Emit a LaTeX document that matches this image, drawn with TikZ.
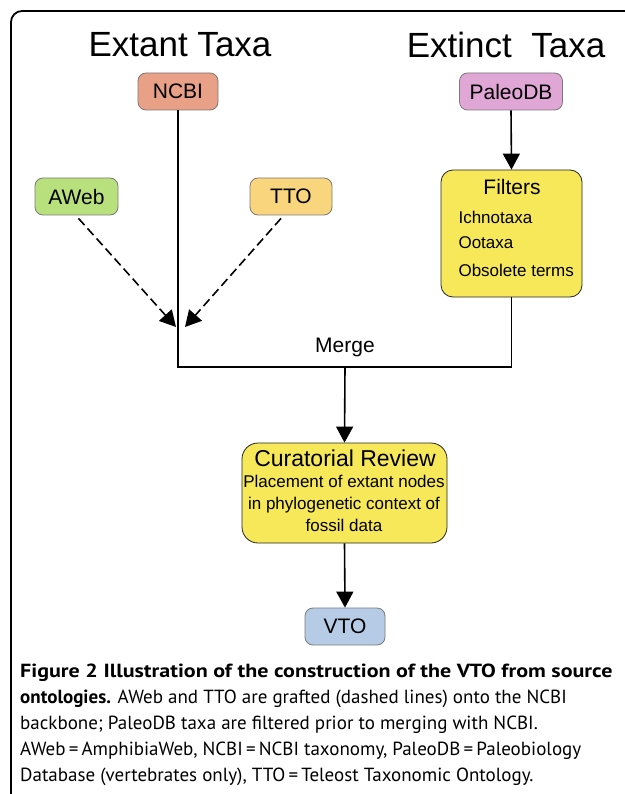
\documentclass[tikz,border=0pt]{standalone}
\usepackage{fontspec}
\setmainfont{Liberation Sans}
\newfontfamily\capfont{PT Sans}
\newfontfamily\capwide[FakeStretch=1.16]{PT Sans}
\usetikzlibrary{arrows.meta}
\definecolor{ncbic}{HTML}{E8A086}
\definecolor{paleoc}{HTML}{E0A6D6}
\definecolor{awebc}{HTML}{B8E07C}
\definecolor{ttoc}{HTML}{F9D67E}
\definecolor{yelc}{HTML}{F6E858}
\definecolor{vtoc}{HTML}{B6CCE6}
\definecolor{edgec}{HTML}{7A7A7A}
\begin{document}
\begin{tikzpicture}[x=1pt,y=-1pt,
  src/.style={draw=edgec, line width=0.8pt, rounded corners=8pt, minimum width=80pt, minimum height=37pt, inner sep=0pt, font=\fontsize{21}{24}\selectfont},
  bigbox/.style={draw=black!85, line width=0.8pt, fill=yelc, inner sep=0pt},
  arr/.style={line width=1.6pt, -{Triangle[length=16pt,width=17pt]}},
  dasharr/.style={arr, dash pattern=on 9pt off 4.5pt},
  title/.style={font=\fontsize{35}{40}\selectfont},
  item/.style={font=\fontsize{17}{20}\selectfont, anchor=west},
  capline/.style={anchor=base west, inner sep=0pt, font=\capfont\fontsize{19}{22}\selectfont}]
\useasboundingbox (0,0) rectangle (624,794);
\fill[white] (0,0) rectangle (624,794);
\draw[line width=1.8pt, rounded corners=11pt] (11,820) -- (11,11) -- (650,11);

\node[title] (extant) at (180,45) {Extant Taxa};
\node[title] (extinct) at (506,45) {Extinct\ \ Taxa};

\node[src, fill=ncbic] (ncbi) at (178,91.5) {NCBI};
\node[src, fill=paleoc, minimum width=103pt] (paleo) at (511,91.5) {PaleoDB};
\node[src, fill=awebc, minimum width=83pt] (aweb) at (76.5,196.5) {AWeb};
\node[src, fill=ttoc, minimum width=82pt] (tto) at (291,196.5) {TTO};
\node[src, fill=vtoc] (vto) at (345,626.5) {VTO};

\node[bigbox, rounded corners=12pt, minimum width=141pt, minimum height=127pt] (filters) at (511.5,233.5) {};
\node[font=\fontsize{21}{24}\selectfont] (ftitle) at (512,187) {Filters};
\node[item] (f1) at (455,217) {Ichnotaxa};
\node[item] (f2) at (455,243) {Ootaxa};
\node[item] (f3) at (455,270) {Obsolete terms};

\node[bigbox, rounded corners=16pt, minimum width=205pt, minimum height=100pt] (cur) at (344.5,493) {};
\node[font=\fontsize{23}{26}\selectfont] (ctitle) at (345,458) {Curatorial Review};
\node[font=\fontsize{17}{20}\selectfont, align=center] (ctext) at (344,503) {Placement of extant nodes\\[2pt]in phylogenetic context of\\[2pt]fossil data};

\coordinate (mj) at (345,367);
\coordinate (ga) at (176,327);
\coordinate (gb) at (185,327);
\node[font=\fontsize{21}{24}\selectfont] (merge) at (345,347) {Merge};

\draw[arr] (paleo.south) -- (filters.north);
\draw[line width=1.6pt] (ncbi.south) |- (mj) -| (filters.south);
\draw[arr] (mj) -- (cur.north);
\draw[arr] (cur.south) -- (vto.north);
\draw[dasharr] ([xshift=2pt,yshift=-3pt]aweb.south) -- (ga);
\draw[dasharr] ([xshift=-10pt,yshift=-3pt]tto.south) -- (gb);

\node[capline] (c1) at (20,677) {\capwide\bfseries Figure 2 Illustration of the construction of the VTO from source};
\node[capline] (c2) at (20,703) {\textbf{ontologies.} AWeb and TTO are grafted (dashed lines) onto the NCBI};
\node[capline] (c3) at (20,729) {backbone; PaleoDB taxa are filtered prior to merging with NCBI.};
\node[capline] (c4) at (20,755) {AWeb\,=\,AmphibiaWeb, NCBI\,=\,NCBI taxonomy, PaleoDB\,=\,Paleobiology};
\node[capline] (c5) at (20,781) {Database (vertebrates only), TTO\,=\,Teleost Taxonomic Ontology.};
\end{tikzpicture}
\end{document}
